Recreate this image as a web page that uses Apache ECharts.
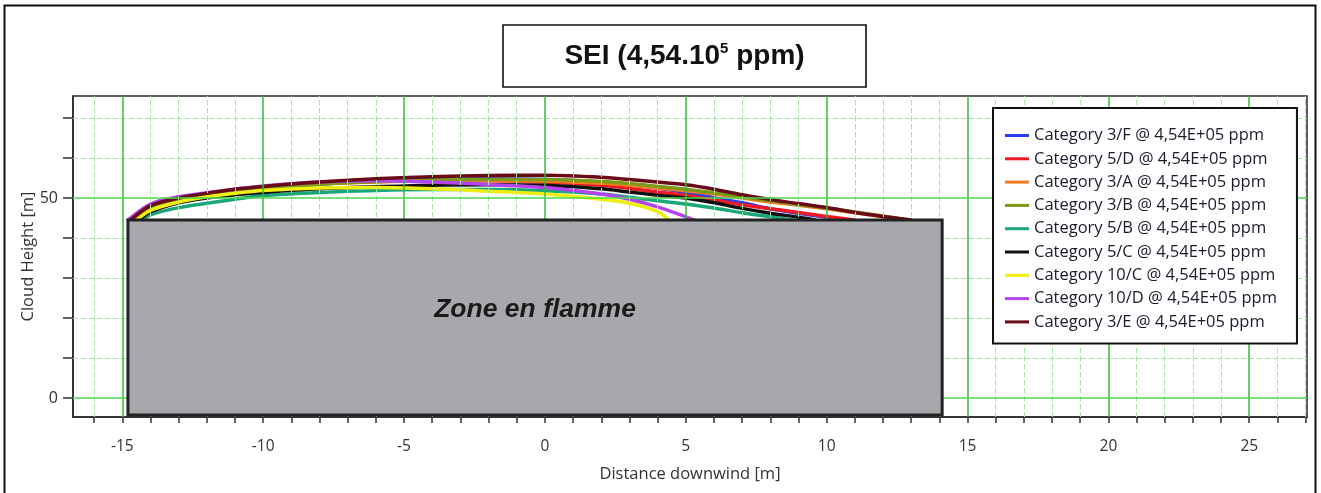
<!DOCTYPE html>
<html>
<head>
<meta charset="utf-8">
<title>SEI cloud height</title>
<script src="https://cdn.jsdelivr.net/npm/echarts@6/dist/echarts.min.js"></script>
<style>
  html, body { margin: 0; padding: 0; background: #ffffff; }
  #chart { width: 1321px; height: 493px; }
</style>
</head>
<body>
<div id="chart"></div>
<script>
// Cloud height profiles [distance downwind (m), height (m)] for each weather category
const seriesNames = [
  'Category 3/F @ 4,54E+05 ppm',
  'Category 5/D @ 4,54E+05 ppm',
  'Category 3/A @ 4,54E+05 ppm',
  'Category 3/B @ 4,54E+05 ppm',
  'Category 5/B @ 4,54E+05 ppm',
  'Category 5/C @ 4,54E+05 ppm',
  'Category 10/C @ 4,54E+05 ppm',
  'Category 10/D @ 4,54E+05 ppm',
  'Category 3/E @ 4,54E+05 ppm'
];
const seriesColors = ['#2a3cf2', '#f01824', '#f27a1e', '#7c9a18', '#1aa87a', '#111111', '#eeee10', '#b444f0', '#6a0c18'];

const cat3F = [[-14.6,44.5],[-14,47.5],[-13,49.6],[-12,50.8],[-11,51.8],[-10,52.5],[-8,53.5],[-6,54.2],[-4,54.6],[-2,54.8],[0,54.6],[2,54],[3,53.4],[4,52.5],[5,51.4],[6,50.1],[7,48.8],[8,47.3],[9,46.2],[10,45.2],[10.8,44.5]];
const cat5D = [[-14.7,44.5],[-14,47.8],[-13,49.8],[-12,51],[-11,52],[-10,52.7],[-8,53.6],[-6,54.1],[-4,54.3],[-2,54.3],[0,54],[2,53.2],[3,52.4],[4,51.5],[5,50.6],[6,49.5],[7,48.3],[8,47.3],[9,46.4],[10,45.4],[11,44.5]];
const cat3A = [[-14.6,44.5],[-14,47.6],[-13,49.6],[-12,50.8],[-11,51.8],[-10,52.5],[-8,53.5],[-6,54],[-4,54.3],[-2,54.3],[0,54.2],[2,53.7],[3,53.2],[4,52.5],[5,51.8],[6,51],[7,50],[8,49],[9,48.2],[10,47.3],[11,46.3],[12,45.3],[12.8,44.5]];
const cat3B = [[-14.5,44.5],[-14,47.3],[-13,49.4],[-12,50.6],[-11,51.6],[-10,52.3],[-8,53.4],[-6,54.1],[-4,54.5],[-2,54.7],[0,54.6],[2,54.1],[3,53.6],[4,52.9],[5,52.2],[6,51.3],[7,50.3],[8,49.3],[9,48.4],[10,47.5],[11,46.5],[12,45.5],[12.9,44.5]];
const cat5B = [[-14.3,44.5],[-14,45.8],[-13,47.6],[-12,48.7],[-11,49.7],[-10,50.6],[-8,51.4],[-6,51.9],[-4,52.1],[-2,52.1],[0,51.8],[2,51],[3,50.2],[4,49.3],[5,48.5],[6,47.5],[7,46.3],[8,45.3],[8.8,44.5]];
const cat5C = [[-14.4,44.5],[-14,46.5],[-13,48.8],[-12,50],[-11,50.8],[-10,51.4],[-8,52.3],[-6,52.8],[-4,53.2],[-2,53.3],[0,53.2],[2,52.3],[3,51.5],[4,50.7],[5,50],[6,48.8],[7,47.4],[8,46.2],[9,45.2],[9.6,44.5]];
const cat10C = [[-14.5,44.5],[-14,46.9],[-13,49],[-12,50.3],[-11,51.2],[-10,51.9],[-8,52.5],[-6,52.6],[-4,52.3],[-2,51.7],[0,51],[2,49.7],[3,48.7],[4,46.6],[4.4,44.5]];
const cat10D = [[-14.8,44.5],[-14,48.5],[-13,50.3],[-12,51.3],[-11,52.2],[-10,53],[-8,54],[-6,54.3],[-4,54],[-2,53.4],[0,52.6],[2,51],[3,49.7],[4,47.8],[5,45.3],[5.3,44.5]];
const cat3E = [[-14.7,44.5],[-14,48.1],[-13,50],[-12,51.2],[-11,52.2],[-10,52.9],[-8,54],[-6,54.8],[-4,55.3],[-2,55.6],[0,55.7],[2,55.2],[3,54.6],[4,54],[5,53.3],[6,52.2],[7,50.8],[8,49.6],[9,48.6],[10,47.6],[11,46.4],[12,45.4],[13,44.5]];
const seriesData = [cat3F, cat5D, cat3A, cat3B, cat5B, cat5C, cat10C, cat10D, cat3E];

// Flame zone block: [xStart, xEnd, yBottom, yTop] and its caption position
const flameZone = [[-14.8, 14.1, -4.25, 44.5]];
const flameZoneLabel = 'Zone en flamme';
const flameZoneLabelPos = [-0.35, 22];

// Axis ranges, ticks, labels and grid lines
const xRange = [-16.75, 27.05];
const yRange = [-4.75, 75.5];
const xTicks = [-16,-15,-14,-13,-12,-11,-10,-9,-8,-7,-6,-5,-4,-3,-2,-1,0,1,2,3,4,5,6,7,8,9,10,11,12,13,14,15,16,17,18,19,20,21,22,23,24,25,26,27];
const xLabels = [-15,-10,-5,0,5,10,15,20,25];
const xGridMajor = [-15,-10,-5,0,5,10,15,20,25];
const xGridMinor = [-16,-14,-13,-12,-11,-9,-8,-7,-6,-4,-3,-2,-1,1,2,3,4,6,7,8,9,11,12,13,14,16,17,18,19,21,22,23,24,26,27];
const yTicks = [0,10,20,30,40,50,60,70];
const yLabels = [0,50];
const yGridMajor = [0,50];
const yGridMinor = [10,20,30,40,60,70];

const titleText = '{a|SEI (4,54.10}{s|5}{a| ppm)}';
const xAxisName = 'Distance downwind [m]';
const yAxisName = 'Cloud Height [m]';

const uiFont = '"Open Sans", "Noto Sans", sans-serif';
const boldFont = '"Liberation Sans", Arial, sans-serif';

const chart = echarts.init(document.getElementById('chart'), null, { renderer: 'canvas' });

const gridMarkLines = [];
xGridMinor.forEach(v => gridMarkLines.push({ xAxis: v, lineStyle: { color: '#9fe89f', width: 1, type: [5, 3] } }));
yGridMinor.forEach(v => gridMarkLines.push({ yAxis: v, lineStyle: { color: '#9fe89f', width: 1, type: [5, 3] } }));
xGridMajor.forEach(v => gridMarkLines.push({ xAxis: v, lineStyle: { color: '#38b838', width: 1.5, type: 'solid' } }));
yGridMajor.forEach(v => gridMarkLines.push({ yAxis: v, lineStyle: { color: '#4ed84e', width: 1.5, type: 'solid' } }));

const lineSeries = seriesNames.map((name, i) => ({
  name: name,
  type: 'line',
  data: seriesData[i],
  smooth: 0.3,
  showSymbol: false,
  symbol: 'none',
  color: seriesColors[i],
  lineStyle: { width: 3.5, color: seriesColors[i], cap: 'round', join: 'round' },
  z: 3,
  silent: true,
  animation: false
}));

const option = {
  animation: false,
  backgroundColor: '#ffffff',
  grid: {
    left: 73, top: 96, right: 14, bottom: 76,
    show: true, backgroundColor: '#ffffff', borderColor: '#2a2a2a', borderWidth: 1.5,
    containLabel: false
  },
  xAxis: {
    type: 'value',
    min: xRange[0], max: xRange[1],
    name: xAxisName,
    nameLocation: 'middle',
    nameGap: 49,
    nameMoveOverlap: false,
    nameTextStyle: { fontFamily: uiFont, fontSize: 16.5, color: '#333' },
    axisLine: { show: true, onZero: false, lineStyle: { color: '#2a2a2a', width: 1.5 } },
    axisTick: { show: true, customValues: xTicks, length: 6, inside: false, lineStyle: { color: '#333', width: 1.5 } },
    axisLabel: { customValues: xLabels, fontFamily: uiFont, fontSize: 15.5, color: '#333', margin: 22 },
    splitLine: { show: false }
  },
  yAxis: {
    type: 'value',
    min: yRange[0], max: yRange[1],
    name: yAxisName,
    nameLocation: 'middle',
    nameRotate: 90,
    nameGap: 36,
    nameMoveOverlap: false,
    nameTextStyle: { fontFamily: uiFont, fontSize: 16.5, color: '#333' },
    axisLine: { show: true, onZero: false, lineStyle: { color: '#2a2a2a', width: 1.5 } },
    axisTick: { show: true, customValues: yTicks, length: 10, lineStyle: { color: '#333', width: 1.5 } },
    axisLabel: { customValues: yLabels, fontFamily: uiFont, fontSize: 16, color: '#333', margin: 15 },
    splitLine: { show: false }
  },
  legend: {
    data: seriesNames,
    orient: 'vertical',
    left: 993, top: 108,
    z: 20,
    icon: 'rect',
    itemWidth: 24, itemHeight: 3,
    itemGap: 6.3,
    padding: [19, 20, 13, 12],
    backgroundColor: '#ffffff',
    borderColor: '#111111',
    borderWidth: 2,
    textStyle: { fontFamily: uiFont, fontSize: 16.5, color: '#1b1b2b', lineHeight: 17 },
    selectedMode: false
  },
  graphic: [
    { type: 'rect', z: 0, silent: true, shape: { x: 4.5, y: 5.5, width: 1311, height: 500 }, style: { fill: 'none', stroke: '#111', lineWidth: 2 } },
    { type: 'rect', z: 10, silent: true, shape: { x: 503, y: 25, width: 363, height: 62 }, style: { fill: '#ffffff', stroke: '#111', lineWidth: 1.6 } },
    {
      type: 'text', z: 11, silent: true, x: 684.5, y: 56,
      style: {
        text: titleText,
        align: 'center', verticalAlign: 'middle',
        rich: {
          a: { fontFamily: boldFont, fontWeight: 'bold', fontSize: 28, fill: '#111' },
          s: { fontFamily: boldFont, fontWeight: 'bold', fontSize: 15, fill: '#111', verticalAlign: 'top', padding: [0, 0, 14, 0] }
        }
      }
    }
  ],
  series: [
    {
      name: 'gridlines',
      type: 'line',
      data: [],
      z: 1,
      silent: true,
      markLine: { silent: true, symbol: 'none', label: { show: false }, animation: false, data: gridMarkLines }
    },
    ...lineSeries,
    {
      name: 'flame zone',
      type: 'custom',
      z: 5,
      silent: true,
      data: flameZone,
      encode: { x: [0, 1], y: [2, 3] },
      renderItem: function (params, api) {
        const tl = api.coord([api.value(0), api.value(3)]);
        const br = api.coord([api.value(1), api.value(2)]);
        const lp = api.coord(flameZoneLabelPos);
        return {
          type: 'group',
          children: [
            { type: 'rect', shape: { x: tl[0], y: tl[1], width: br[0] - tl[0], height: br[1] - tl[1] }, style: { fill: '#a7a8ab', stroke: '#222222', lineWidth: 3 } },
            { type: 'text', x: lp[0], y: lp[1], style: { text: flameZoneLabel, align: 'center', verticalAlign: 'middle', fontFamily: boldFont, fontWeight: 'bold', fontStyle: 'italic', fontSize: 26.5, fill: '#1a1a1a' } }
          ]
        };
      }
    }
  ]
};

chart.setOption(option);
</script>
</body>
</html>
